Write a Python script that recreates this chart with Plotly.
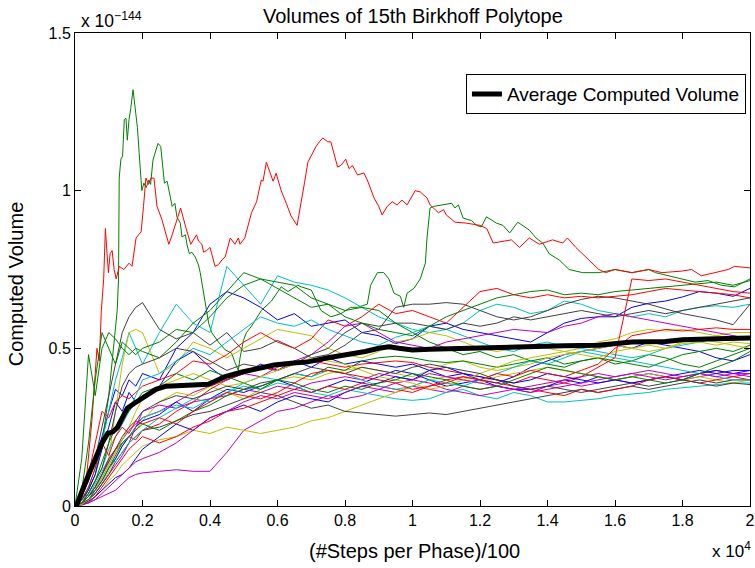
import plotly.graph_objects as go

# ---------------- shared x grid for the bundle runs (units of 10^4) ----------------
XG = [0, 0.02, 0.04, 0.06, 0.08, 0.10, 0.12, 0.14, 0.16, 0.18, 0.20,
      0.25, 0.30, 0.35, 0.40, 0.45, 0.50, 0.55, 0.60, 0.65, 0.70, 0.75, 0.80, 0.85, 0.90, 0.95, 1.00,
      1.05, 1.10, 1.15, 1.20, 1.25, 1.30, 1.35, 1.40, 1.45, 1.50, 1.55, 1.60, 1.65, 1.70, 1.75, 1.80, 1.85, 1.90, 1.95, 2.00]

# ---------------- bundle runs (units of 10^-144) ----------------
B1 = [0, 0.03, 0.08, 0.15, 0.22, 0.30, 0.37, 0.35, 0.40, 0.38, 0.42,
      0.40, 0.50, 0.55, 0.64, 0.68, 0.66, 0.63, 0.59, 0.61, 0.57, 0.58, 0.59, 0.55, 0.54, 0.515, 0.53,
      0.57, 0.58, 0.56, 0.55, 0.54, 0.53, 0.52, 0.55, 0.58, 0.595, 0.60, 0.60, 0.63, 0.643, 0.65, 0.663, 0.68, 0.675, 0.665, 0.69]
B2 = [0, 0.02, 0.05, 0.10, 0.18, 0.25, 0.33, 0.30, 0.36, 0.33, 0.35,
      0.38, 0.46, 0.49, 0.44, 0.40, 0.42, 0.45, 0.43, 0.46, 0.44, 0.47, 0.45, 0.46, 0.45, 0.44, 0.45,
      0.43, 0.41, 0.42, 0.40, 0.39, 0.41, 0.44, 0.46, 0.48, 0.49, 0.50, 0.51, 0.50, 0.52, 0.51, 0.50, 0.49, 0.47, 0.46, 0.48]
B3 = [0, 0.01, 0.03, 0.05, 0.08, 0.12, 0.15, 0.19, 0.22, 0.25, 0.27,
      0.29, 0.33, 0.30, 0.34, 0.37, 0.36, 0.38, 0.40, 0.38, 0.36, 0.38, 0.40, 0.39, 0.41, 0.43, 0.42,
      0.40, 0.38, 0.39, 0.40, 0.38, 0.37, 0.37, 0.38, 0.40, 0.39, 0.41, 0.40, 0.41, 0.42, 0.41, 0.42, 0.43, 0.42, 0.43, 0.43]
B4 = [0, 0.005, 0.015, 0.03, 0.05, 0.07, 0.09, 0.10, 0.12, 0.15, 0.18,
      0.22, 0.26, 0.24, 0.28, 0.30, 0.32, 0.30, 0.33, 0.35, 0.34, 0.33, 0.36, 0.38, 0.39, 0.41, 0.40,
      0.43, 0.44, 0.42, 0.41, 0.40, 0.39, 0.40, 0.42, 0.41, 0.40, 0.39, 0.40, 0.39, 0.40, 0.41, 0.40, 0.42, 0.43, 0.42, 0.43]

G3 = [0, 0.15, 0.48, 0.35, 0.50, 0.55, 0.53, 0.50, 0.48, 0.50, 0.49,
      0.47, 0.52, 0.58, 0.62, 0.68, 0.74, 0.72, 0.69, 0.66, 0.63, 0.64, 0.62, 0.63, 0.62, 0.58, 0.55,
      0.52, 0.50, 0.48, 0.49, 0.47, 0.48, 0.46, 0.47, 0.45, 0.46, 0.47, 0.45, 0.46, 0.48, 0.47, 0.45, 0.44, 0.46, 0.48, 0.50]
G4 = [0, 0.05, 0.20, 0.40, 0.55, 0.50, 0.45, 0.52, 0.50, 0.48, 0.50,
      0.52, 0.56, 0.55, 0.60, 0.66, 0.70, 0.72, 0.71, 0.70, 0.66, 0.64, 0.60, 0.58, 0.56, 0.55, 0.54,
      0.57, 0.60, 0.62, 0.64, 0.66, 0.67, 0.68, 0.685, 0.67, 0.675, 0.67, 0.68, 0.685, 0.69, 0.695, 0.70, 0.705, 0.71, 0.70, 0.715]
G5 = [0, 0.01, 0.04, 0.08, 0.14, 0.20, 0.25, 0.28, 0.30, 0.33, 0.36,
      0.38, 0.42, 0.40, 0.43, 0.41, 0.39, 0.37, 0.40, 0.42, 0.41, 0.44, 0.43, 0.46, 0.47, 0.475, 0.47,
      0.46, 0.455, 0.46, 0.45, 0.44, 0.45, 0.46, 0.45, 0.44, 0.46, 0.47, 0.46, 0.45, 0.44, 0.46, 0.48, 0.49, 0.50, 0.49, 0.51]
G6 = [0, 0.01, 0.02, 0.05, 0.08, 0.12, 0.16, 0.20, 0.22, 0.24, 0.26,
      0.24, 0.27, 0.30, 0.32, 0.35, 0.37, 0.38, 0.40, 0.39, 0.37, 0.36, 0.38, 0.37, 0.39, 0.40, 0.42,
      0.41, 0.40, 0.38, 0.37, 0.38, 0.40, 0.42, 0.44, 0.43, 0.42, 0.41, 0.40, 0.41, 0.40, 0.39, 0.40, 0.42, 0.44, 0.46, 0.49]

R2 = [0, 0.03, 0.10, 0.20, 0.30, 0.28, 0.33, 0.35, 0.34, 0.36, 0.38,
      0.40, 0.42, 0.46, 0.45, 0.48, 0.52, 0.55, 0.52, 0.50, 0.53, 0.59, 0.57, 0.60, 0.64, 0.61, 0.62,
      0.60, 0.58, 0.63, 0.68, 0.69, 0.67, 0.66, 0.67, 0.66, 0.665, 0.66, 0.665, 0.67, 0.68, 0.69, 0.685, 0.68, 0.675, 0.67, 0.66]
R3 = [0, 0.01, 0.03, 0.06, 0.10, 0.14, 0.18, 0.20, 0.22, 0.21, 0.24,
      0.26, 0.30, 0.33, 0.37, 0.40, 0.42, 0.44, 0.43, 0.45, 0.46, 0.45, 0.44, 0.45, 0.455, 0.46, 0.455,
      0.44, 0.43, 0.42, 0.41, 0.40, 0.39, 0.41, 0.40, 0.39, 0.41, 0.44, 0.47, 0.72, 0.715, 0.72, 0.71, 0.70, 0.69, 0.68, 0.675]
R4 = [0, 0.005, 0.01, 0.03, 0.06, 0.09, 0.12, 0.15, 0.18, 0.20, 0.22,
      0.20, 0.22, 0.25, 0.27, 0.30, 0.31, 0.33, 0.35, 0.37, 0.36, 0.38, 0.37, 0.39, 0.38, 0.37, 0.36,
      0.38, 0.40, 0.41, 0.40, 0.39, 0.38, 0.37, 0.36, 0.35, 0.37, 0.36, 0.37, 0.38, 0.40, 0.41, 0.40, 0.39, 0.40, 0.41, 0.40]
R5 = [0, 0.02, 0.06, 0.12, 0.20, 0.16, 0.22, 0.25, 0.23, 0.27, 0.26,
      0.28, 0.26, 0.30, 0.33, 0.36, 0.35, 0.34, 0.36, 0.39, 0.42, 0.43, 0.42, 0.41, 0.40, 0.39, 0.37,
      0.38, 0.39, 0.41, 0.40, 0.42, 0.41, 0.43, 0.42, 0.41, 0.43, 0.45, 0.50, 0.54, 0.55, 0.56, 0.555, 0.56, 0.565, 0.56, 0.56]

C1 = [0, 0.02, 0.06, 0.12, 0.20, 0.30, 0.40, 0.47, 0.55, 0.50, 0.45,
      0.55, 0.64, 0.58, 0.55, 0.76, 0.70, 0.64, 0.73, 0.71, 0.70, 0.685, 0.66, 0.63, 0.60, 0.58, 0.56,
      0.55, 0.56, 0.58, 0.62, 0.64, 0.63, 0.61, 0.62, 0.65, 0.64, 0.62, 0.61, 0.60, 0.61, 0.60, 0.62, 0.63, 0.635, 0.63, 0.64]
C2 = [0, 0.01, 0.04, 0.08, 0.12, 0.18, 0.22, 0.26, 0.30, 0.35, 0.40,
      0.42, 0.46, 0.50, 0.48, 0.52, 0.56, 0.60, 0.58, 0.57, 0.59, 0.56, 0.54, 0.52, 0.51, 0.535, 0.55,
      0.57, 0.56, 0.54, 0.52, 0.50, 0.49, 0.51, 0.52, 0.505, 0.50, 0.49, 0.48, 0.47, 0.48, 0.50, 0.51, 0.52, 0.53, 0.54, 0.53]
C3 = [0, 0.005, 0.02, 0.05, 0.09, 0.13, 0.17, 0.20, 0.22, 0.25, 0.28,
      0.30, 0.32, 0.31, 0.34, 0.36, 0.38, 0.37, 0.39, 0.38, 0.36, 0.35, 0.37, 0.36, 0.35, 0.34, 0.335,
      0.34, 0.36, 0.37, 0.35, 0.34, 0.36, 0.35, 0.33, 0.33, 0.335, 0.34, 0.35, 0.355, 0.36, 0.37, 0.375, 0.38, 0.385, 0.39, 0.39]
C4 = [0, 0.01, 0.03, 0.07, 0.11, 0.15, 0.14, 0.17, 0.20, 0.22, 0.24,
      0.28, 0.31, 0.34, 0.33, 0.36, 0.39, 0.41, 0.40, 0.42, 0.41, 0.43, 0.42, 0.40, 0.38, 0.37, 0.38,
      0.40, 0.39, 0.38, 0.40, 0.42, 0.44, 0.46, 0.45, 0.47, 0.49, 0.48, 0.47, 0.46, 0.45, 0.44, 0.43, 0.42, 0.41, 0.40, 0.40]

M1 = [0, 0.005, 0.01, 0.02, 0.03, 0.04, 0.05, 0.07, 0.09, 0.10, 0.105,
      0.11, 0.115, 0.11, 0.11, 0.17, 0.24, 0.27, 0.30, 0.31, 0.33, 0.35, 0.34, 0.35, 0.37, 0.36, 0.38,
      0.37, 0.36, 0.38, 0.37, 0.38, 0.37, 0.36, 0.38, 0.39, 0.38, 0.39, 0.40, 0.39, 0.40, 0.41, 0.40, 0.41, 0.42, 0.41, 0.42]
M2 = [0, 0.01, 0.03, 0.06, 0.10, 0.14, 0.18, 0.21, 0.24, 0.26, 0.28,
      0.30, 0.33, 0.36, 0.38, 0.40, 0.42, 0.41, 0.44, 0.46, 0.48, 0.52, 0.57, 0.58, 0.55, 0.52, 0.51,
      0.50, 0.52, 0.53, 0.54, 0.55, 0.56, 0.555, 0.55, 0.57, 0.58, 0.60, 0.61, 0.60, 0.59, 0.58, 0.57, 0.56, 0.55, 0.54, 0.53]
M3 = [0, 0.01, 0.02, 0.04, 0.07, 0.10, 0.13, 0.16, 0.20, 0.25, 0.30,
      0.32, 0.31, 0.33, 0.34, 0.35, 0.37, 0.36, 0.38, 0.37, 0.39, 0.40, 0.41, 0.40, 0.42, 0.41, 0.40,
      0.39, 0.37, 0.36, 0.35, 0.36, 0.37, 0.38, 0.39, 0.40, 0.41, 0.42, 0.41, 0.42, 0.43, 0.42, 0.41, 0.42, 0.43, 0.42, 0.41]
M4 = [0, 0.003, 0.01, 0.02, 0.04, 0.06, 0.08, 0.10, 0.12, 0.14, 0.15,
      0.17, 0.20, 0.24, 0.28, 0.30, 0.33, 0.35, 0.34, 0.36, 0.35, 0.34, 0.36, 0.38, 0.37, 0.39, 0.40,
      0.42, 0.41, 0.40, 0.39, 0.38, 0.37, 0.36, 0.37, 0.38, 0.39, 0.40, 0.41, 0.42, 0.41, 0.40, 0.41, 0.42, 0.41, 0.42, 0.42]

Y1 = [0, 0.01, 0.03, 0.06, 0.10, 0.15, 0.30, 0.45, 0.55, 0.56, 0.55,
      0.42, 0.45, 0.52, 0.50, 0.47, 0.50, 0.53, 0.56, 0.55, 0.54, 0.50, 0.48, 0.47, 0.49, 0.52, 0.53,
      0.55, 0.54, 0.52, 0.50, 0.49, 0.50, 0.51, 0.50, 0.49, 0.50, 0.52, 0.53, 0.55, 0.56, 0.555, 0.56, 0.55, 0.54, 0.55, 0.55]
Y2 = [0, 0.005, 0.02, 0.04, 0.07, 0.11, 0.15, 0.19, 0.22, 0.24, 0.27,
      0.33, 0.36, 0.35, 0.38, 0.36, 0.34, 0.37, 0.40, 0.41, 0.40, 0.42, 0.43, 0.44, 0.43, 0.42, 0.41,
      0.43, 0.45, 0.46, 0.44, 0.43, 0.44, 0.45, 0.47, 0.48, 0.49, 0.50, 0.51, 0.50, 0.49, 0.50, 0.515, 0.52, 0.51, 0.52, 0.515]
Y3 = [0, 0.003, 0.01, 0.03, 0.05, 0.08, 0.10, 0.13, 0.15, 0.17, 0.19,
      0.21, 0.22, 0.24, 0.23, 0.25, 0.24, 0.23, 0.24, 0.25, 0.27, 0.28, 0.30, 0.32, 0.34, 0.36, 0.38,
      0.40, 0.41, 0.40, 0.39, 0.41, 0.42, 0.43, 0.44, 0.43, 0.42, 0.41, 0.40, 0.41, 0.42, 0.41, 0.40, 0.41, 0.40, 0.39, 0.40]
Y4 = [0, 0.005, 0.02, 0.05, 0.09, 0.13, 0.17, 0.21, 0.25, 0.30, 0.34,
      0.38, 0.40, 0.42, 0.40, 0.38, 0.39, 0.41, 0.43, 0.45, 0.47, 0.46, 0.45, 0.43, 0.41, 0.40, 0.39,
      0.37, 0.38, 0.40, 0.42, 0.44, 0.46, 0.47, 0.48, 0.49, 0.48, 0.47, 0.49, 0.50, 0.51, 0.50, 0.52, 0.53, 0.52, 0.51, 0.50]

K1 = [0, 0.03, 0.08, 0.15, 0.25, 0.35, 0.45, 0.55, 0.60, 0.63, 0.645,
      0.56, 0.53, 0.55, 0.51, 0.55, 0.49, 0.50, 0.525, 0.50, 0.47, 0.48, 0.51, 0.55, 0.56, 0.63, 0.64,
      0.64, 0.645, 0.64, 0.62, 0.60, 0.59, 0.60, 0.62, 0.64, 0.655, 0.665, 0.66, 0.65, 0.64, 0.625, 0.61, 0.60, 0.59, 0.575, 0.64]
K2 = [0, 0.01, 0.04, 0.08, 0.12, 0.20, 0.30, 0.38, 0.42, 0.44, 0.45,
      0.47, 0.50, 0.49, 0.46, 0.43, 0.45, 0.44, 0.43, 0.45, 0.48, 0.50, 0.55, 0.58, 0.57, 0.58, 0.58,
      0.57, 0.56, 0.58, 0.57, 0.58, 0.60, 0.59, 0.60, 0.61, 0.62, 0.61, 0.60, 0.61, 0.62, 0.61, 0.62, 0.63, 0.64, 0.65, 0.66]
K3 = [0, 0.005, 0.02, 0.04, 0.07, 0.10, 0.14, 0.17, 0.20, 0.22, 0.24,
      0.25, 0.27, 0.29, 0.30, 0.32, 0.34, 0.36, 0.35, 0.33, 0.31, 0.32, 0.30, 0.295, 0.29, 0.285, 0.29,
      0.295, 0.29, 0.30, 0.31, 0.32, 0.33, 0.34, 0.35, 0.36, 0.37, 0.36, 0.37, 0.38, 0.37, 0.38, 0.39, 0.40, 0.39, 0.40, 0.40]
K4 = [0, 0.01, 0.03, 0.06, 0.10, 0.15, 0.18, 0.22, 0.25, 0.27, 0.30,
      0.33, 0.35, 0.34, 0.36, 0.38, 0.37, 0.39, 0.40, 0.42, 0.44, 0.43, 0.42, 0.44, 0.43, 0.42, 0.44,
      0.45, 0.44, 0.43, 0.42, 0.40, 0.38, 0.37, 0.38, 0.37, 0.36, 0.37, 0.38, 0.39, 0.38, 0.39, 0.40, 0.39, 0.38, 0.39, 0.385]

# ---------------- the two standout runs, read point by point ----------------
R1_PTS = [(0, 0), (0.02, 0.03), (0.035, 0.10), (0.05, 0.27), (0.06, 0.42), (0.065, 0.50), (0.072, 0.46),
          (0.078, 0.62), (0.085, 0.72), (0.09, 0.88), (0.095, 0.80), (0.099, 0.74), (0.104, 0.80), (0.11, 0.81),
          (0.116, 0.75), (0.122, 0.72), (0.131, 0.76), (0.145, 0.75), (0.16, 0.77), (0.169, 0.76), (0.181, 0.85),
          (0.196, 0.87), (0.203, 0.95), (0.21, 1.04), (0.218, 1.02), (0.225, 1.04), (0.234, 1.04), (0.243, 0.95),
          (0.257, 0.91), (0.268, 0.87), (0.278, 0.83), (0.288, 0.86), (0.299, 0.90), (0.313, 0.945), (0.328, 0.885),
          (0.343, 0.83), (0.36, 0.86), (0.366, 0.84), (0.376, 0.83), (0.381, 0.805), (0.39, 0.81), (0.40, 0.82),
          (0.405, 0.80), (0.415, 0.76), (0.425, 0.765), (0.435, 0.78), (0.445, 0.79), (0.46, 0.85), (0.474, 0.83),
          (0.484, 0.85), (0.489, 0.83), (0.503, 0.85), (0.523, 0.93), (0.538, 0.965), (0.552, 1.034), (0.557, 1.03),
          (0.567, 1.09), (0.577, 1.06), (0.587, 1.03), (0.596, 1.055), (0.611, 1.0), (0.626, 0.96), (0.64, 0.92),
          (0.658, 0.89), (0.67, 0.96), (0.68, 1.025), (0.69, 1.09), (0.704, 1.12), (0.714, 1.14), (0.724, 1.155),
          (0.734, 1.167), (0.749, 1.155), (0.758, 1.155), (0.778, 1.075), (0.788, 1.08), (0.802, 1.10), (0.812, 1.07),
          (0.822, 1.08), (0.837, 1.05), (0.856, 1.056), (0.866, 1.034), (0.886, 0.977), (0.90, 0.95), (0.91, 0.923),
          (0.925, 0.95), (0.94, 0.965), (0.954, 0.955), (0.969, 0.97), (0.984, 0.955), (1.008, 1.0), (1.023, 0.996),
          (1.043, 0.977), (1.052, 0.955), (1.067, 0.94), (1.077, 0.93), (1.092, 0.94), (1.10, 0.923), (1.126, 0.90),
          (1.16, 0.897), (1.20, 0.89), (1.22, 0.88), (1.239, 0.834), (1.258, 0.837), (1.293, 0.844), (1.317, 0.82),
          (1.346, 0.85), (1.376, 0.83), (1.415, 0.844), (1.445, 0.834), (1.459, 0.85), (1.484, 0.82), (1.504, 0.80),
          (1.523, 0.78), (1.552, 0.75), (1.572, 0.74), (1.60, 0.75), (1.65, 0.74), (1.70, 0.75), (1.739, 0.74),
          (1.798, 0.745), (1.827, 0.75), (1.856, 0.73), (1.896, 0.74), (1.935, 0.75), (1.954, 0.76), (2.0, 0.755)]

G1_PTS = [(0, 0), (0.03, 0.03), (0.06, 0.10), (0.08, 0.20), (0.10, 0.35), (0.115, 0.50), (0.125, 0.62),
          (0.129, 0.72), (0.131, 1.04), (0.136, 1.10), (0.141, 1.11), (0.146, 1.225), (0.151, 1.23), (0.155, 1.16),
          (0.16, 1.225), (0.165, 1.26), (0.172, 1.32), (0.18, 1.245), (0.185, 1.20), (0.19, 1.12), (0.198, 1.0),
          (0.204, 1.024), (0.211, 1.01), (0.219, 1.034), (0.224, 1.02), (0.231, 1.097), (0.239, 1.13), (0.246, 1.15),
          (0.254, 1.14), (0.26, 1.075), (0.265, 1.024), (0.273, 1.03), (0.278, 1.0), (0.288, 0.95), (0.296, 0.96),
          (0.302, 0.917), (0.312, 0.897), (0.317, 0.853), (0.327, 0.86), (0.332, 0.828), (0.339, 0.80), (0.346, 0.805),
          (0.356, 0.79), (0.366, 0.764), (0.371, 0.74), (0.386, 0.65), (0.396, 0.58), (0.405, 0.55), (0.425, 0.52),
          (0.445, 0.495), (0.464, 0.485), (0.474, 0.455), (0.484, 0.43), (0.489, 0.47), (0.499, 0.525), (0.508, 0.55),
          (0.523, 0.57), (0.552, 0.62), (0.582, 0.65), (0.611, 0.695), (0.631, 0.68), (0.66, 0.70), (0.67, 0.695),
          (0.70, 0.685), (0.729, 0.62), (0.758, 0.60), (0.788, 0.61), (0.817, 0.63), (0.837, 0.63), (0.866, 0.64),
          (0.876, 0.70), (0.896, 0.74), (0.915, 0.74), (0.93, 0.72), (0.945, 0.675), (0.964, 0.665), (0.974, 0.63),
          (0.984, 0.675), (1.004, 0.69), (1.023, 0.72), (1.038, 0.77), (1.043, 0.85), (1.048, 0.917), (1.052, 0.945),
          (1.062, 0.95), (1.092, 0.955), (1.116, 0.96), (1.126, 0.945), (1.136, 0.955), (1.15, 0.913), (1.175, 0.905),
          (1.19, 0.89), (1.204, 0.885), (1.219, 0.917), (1.249, 0.897), (1.268, 0.89), (1.288, 0.866), (1.312, 0.90),
          (1.346, 0.875), (1.366, 0.85), (1.386, 0.834), (1.405, 0.80), (1.435, 0.78), (1.464, 0.75), (1.504, 0.74),
          (1.552, 0.74), (1.60, 0.75), (1.65, 0.74), (1.70, 0.75), (1.72, 0.74), (1.758, 0.73), (1.798, 0.72),
          (1.837, 0.71), (1.876, 0.715), (1.915, 0.70), (1.954, 0.695), (1.984, 0.71), (2.0, 0.72)]

AVG_PTS = [(0, 0), (0.004, 0), (0.03, 0.073), (0.06, 0.146), (0.08, 0.20), (0.097, 0.23), (0.112, 0.235),
           (0.126, 0.25), (0.14, 0.28), (0.155, 0.31), (0.175, 0.325), (0.195, 0.34), (0.22, 0.355), (0.24, 0.37),
           (0.27, 0.38), (0.31, 0.383), (0.35, 0.384), (0.395, 0.386), (0.41, 0.393), (0.445, 0.41), (0.495, 0.425),
           (0.54, 0.437), (0.59, 0.447), (0.64, 0.453), (0.69, 0.457), (0.75, 0.47), (0.81, 0.48), (0.86, 0.49),
           (0.90, 0.50), (0.93, 0.505), (0.96, 0.50), (1.0, 0.495), (1.05, 0.497), (1.15, 0.50), (1.25, 0.505),
           (1.35, 0.507), (1.45, 0.508), (1.55, 0.51), (1.65, 0.52), (1.75, 0.522), (1.80, 0.527), (1.90, 0.53),
           (2.0, 0.533)]

X_TICKS = [0, 0.2, 0.4, 0.6, 0.8, 1.0, 1.2, 1.4, 1.6, 1.8, 2.0]
X_TICK_TEXT = ["0", "0.2", "0.4", "0.6", "0.8", "1", "1.2", "1.4", "1.6", "1.8", "2"]
Y_TICKS = [0, 0.5, 1.0, 1.5]
Y_TICK_TEXT = ["0", "0.5", "1", "1.5"]

BLUE, GREEN, RED = "#0000FF", "#008000", "#FF0000"
CYAN, MAGENTA, YELLOW, GRAY = "#00BFBF", "#BF00BF", "#BFBF00", "#404040"

RUNS = [
    (XG, B1, BLUE), ([p[0] for p in G1_PTS], [p[1] for p in G1_PTS], GREEN),
    ([p[0] for p in R1_PTS], [p[1] for p in R1_PTS], RED),
    (XG, C1, CYAN), (XG, M1, MAGENTA), (XG, Y1, YELLOW), (XG, K1, GRAY),
    (XG, B2, BLUE), (XG, G3, GREEN), (XG, R2, RED), (XG, C2, CYAN), (XG, M2, MAGENTA), (XG, Y2, YELLOW), (XG, K2, GRAY),
    (XG, B3, BLUE), (XG, G4, GREEN), (XG, R3, RED), (XG, C3, CYAN), (XG, M3, MAGENTA), (XG, Y3, YELLOW), (XG, K3, GRAY),
    (XG, B4, BLUE), (XG, G5, GREEN), (XG, R4, RED), (XG, C4, CYAN), (XG, M4, MAGENTA), (XG, Y4, YELLOW), (XG, K4, GRAY),
    (XG, G6, GREEN), (XG, R5, RED),
]

for xs, ys, _ in RUNS:
    assert len(xs) == len(ys), (len(xs), len(ys))

FONT = "Liberation Sans, Arial, Helvetica, sans-serif"

fig = go.Figure()
for xs, ys, col in RUNS:
    fig.add_trace(go.Scatter(x=xs, y=ys, mode="lines", line=dict(color=col, width=1),
                             showlegend=False, hoverinfo="skip"))

fig.add_trace(go.Scatter(x=[p[0] for p in AVG_PTS], y=[p[1] for p in AVG_PTS], mode="lines",
                         line=dict(color="black", width=5), name="Average Computed Volume"))

axis_common = dict(showline=True, linecolor="black", linewidth=1, mirror="ticks",
                   ticks="inside", ticklen=6, tickwidth=1, tickcolor="black",
                   showgrid=False, zeroline=False, ticklabeloverflow="allow",
                   tickfont=dict(size=16, color="black", family=FONT))

fig.update_xaxes(range=[0, 2], tickvals=X_TICKS, ticktext=X_TICK_TEXT, **axis_common)
fig.update_yaxes(range=[0, 1.5], tickvals=Y_TICKS, ticktext=Y_TICK_TEXT, **axis_common)

fig.update_layout(
    width=755, height=568,
    margin=dict(l=75, r=0, t=33, b=62),
    plot_bgcolor="white", paper_bgcolor="white",
    font=dict(family=FONT, size=16, color="black"),
    showlegend=True,
    legend=dict(x=0.994, y=0.913, xanchor="right", yanchor="top",
                bordercolor="black", borderwidth=1, bgcolor="white",
                font=dict(size=19, family=FONT), itemwidth=30),
    annotations=[
        dict(text="Volumes of 15th Birkhoff Polytope", xref="paper", yref="paper", x=0.5, y=1.036,
             xanchor="center", yanchor="middle", showarrow=False, font=dict(size=20)),
        dict(text="Computed Volume", xref="paper", yref="paper", x=-0.088, y=0.47, textangle=-90,
             xanchor="center", yanchor="middle", showarrow=False, font=dict(size=20)),
        dict(text="(#Steps per Phase)/100", xref="paper", yref="paper", x=0.503, y=-0.095,
             xanchor="center", yanchor="middle", showarrow=False, font=dict(size=20)),
        dict(text="x 10<sup>\u2212144</sup>", xref="paper", yref="paper", x=0.006, y=1.0,
             xanchor="left", yanchor="bottom", showarrow=False, font=dict(size=17.5)),
        dict(text="x 10<sup>4</sup>", xref="paper", yref="paper", x=0.94, y=-0.092,
             xanchor="left", yanchor="middle", showarrow=False, font=dict(size=17)),
    ],
)

fig.write_html("out.html")
